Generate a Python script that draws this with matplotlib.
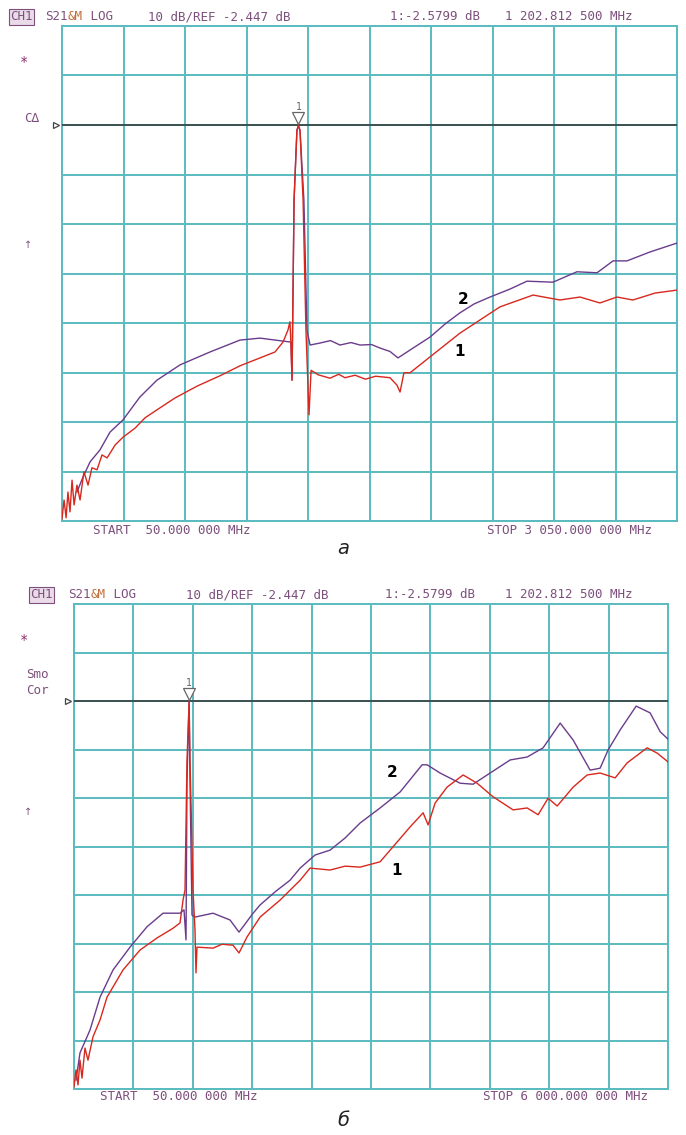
import matplotlib.pyplot as plt
import numpy as np
from matplotlib.transforms import blended_transform_factory

W, H = 686, 1135

REF = -2.447          # dB, опорный уровень
DB_DIV = 10           # дБ на деление
PEAK_F = 1202.8125    # МГц, маркер 1

# панель а: 50 ... 3050 МГц
start_a, stop_a = 50, 3050
# кривая 2 (фиолетовая), (МГц, дБ)
trace2_a = [(123, -76.6), (152, -73.6), (187, -70.5), (235, -68.1), (284, -64.5),
            (348, -62.0), (430, -57.4), (513, -54.0), (626, -50.9), (772, -48.3),
            (918, -45.9), (1016, -45.5), (1128, -46.1), (1167, -46.3), (1172, -54.0),
            (1182, -17.6), (1196, -3.5), (1203, -2.6), (1211, -3.5), (1230, -17.6),
            (1245, -43.9), (1260, -46.9), (1308, -46.5), (1360, -46.0), (1406, -46.9),
            (1460, -46.4), (1504, -46.9), (1560, -46.8), (1601, -47.5), (1650, -48.2),
            (1689, -49.5), (1748, -47.9), (1845, -45.3), (1920, -42.6), (1991, -40.4),
            (2060, -38.6), (2138, -37.2), (2235, -35.6), (2318, -34.0), (2445, -34.2),
            (2562, -32.1), (2660, -32.3), (2738, -29.9), (2806, -29.9), (2918, -28.1),
            (3050, -26.3)]
# кривая 1 (красная)
trace1_a = [(50, -82.0), (60, -78.2), (70, -81.8), (79, -76.6), (89, -80.6),
            (99, -74.2), (109, -79.2), (123, -75.2), (138, -78.2), (157, -72.5),
            (177, -75.2), (196, -71.7), (221, -72.1), (245, -69.1), (270, -69.7),
            (309, -67.1), (348, -65.5), (406, -63.7), (455, -61.6), (513, -60.0),
            (601, -57.6), (709, -55.2), (821, -53.1), (918, -51.1), (1016, -49.5),
            (1089, -48.3), (1128, -46.3), (1152, -43.9), (1162, -42.2), (1167, -46.9),
            (1172, -54.0), (1182, -17.6), (1196, -3.5), (1203, -2.6), (1211, -3.5),
            (1226, -17.6), (1240, -43.9), (1255, -61.0), (1265, -52.0), (1299, -52.9),
            (1357, -53.6), (1400, -52.8), (1430, -53.5), (1480, -53.0), (1530, -53.8),
            (1580, -53.2), (1650, -53.5), (1684, -55.0), (1699, -56.4), (1718, -52.5),
            (1748, -52.5), (1845, -49.3), (1991, -44.5), (2186, -39.2), (2348, -36.8),
            (2479, -37.8), (2577, -37.2), (2674, -38.4), (2757, -37.2), (2835, -37.8),
            (2943, -36.4), (3050, -35.8)]

# панель б: 50 ... 6000 МГц
start_b, stop_b = 50, 6000
trace2_b = [(70, -80.6), (110, -75.0), (210, -70.3), (311, -63.5), (441, -57.9),
            (611, -53.2), (781, -49.0), (942, -46.2), (1112, -46.2), (1152, -45.5),
            (1172, -51.7), (1182, -18.7), (1203, -2.6), (1212, -18.7), (1232, -46.6),
            (1262, -47.0), (1443, -46.2), (1613, -47.6), (1703, -50.1), (1844, -46.2),
            (1914, -44.5), (2064, -41.8), (2214, -39.4), (2315, -36.9), (2465, -34.2),
            (2615, -33.2), (2765, -30.7), (2916, -27.6), (3116, -24.5), (3317, -21.2),
            (3537, -15.6), (3587, -15.6), (3717, -17.3), (3918, -19.4), (4048, -19.6),
            (4218, -17.3), (4419, -14.6), (4589, -14.0), (4749, -12.1), (4920, -7.0),
            (5050, -10.5), (5220, -16.7), (5320, -16.3), (5401, -12.5), (5521, -8.4),
            (5681, -3.5), (5821, -4.9), (5922, -8.8), (6000, -10.3)]
trace1_b = [(50, -82.0), (70, -78.5), (90, -81.6), (110, -76.5), (130, -80.2),
            (160, -74.0), (190, -76.5), (240, -71.7), (311, -68.2), (381, -63.5),
            (541, -57.9), (711, -53.8), (882, -51.3), (1042, -49.3), (1112, -48.2),
            (1142, -43.5), (1162, -41.4), (1182, -14.6), (1203, -2.6), (1212, -14.6),
            (1242, -41.4), (1262, -49.7), (1272, -58.5), (1282, -53.2), (1443, -53.4),
            (1533, -52.6), (1643, -52.8), (1703, -54.4), (1783, -51.1), (1914, -47.0),
            (2114, -43.5), (2315, -39.4), (2415, -36.9), (2615, -37.3), (2765, -36.5),
            (2916, -36.7), (3116, -35.6), (3246, -32.5), (3417, -28.4), (3547, -25.5),
            (3597, -28.0), (3667, -23.5), (3787, -20.2), (3948, -17.7), (4088, -19.4),
            (4248, -22.2), (4449, -24.9), (4589, -24.5), (4699, -25.9), (4799, -22.5),
            (4890, -24.1), (5050, -20.2), (5190, -17.7), (5320, -17.3), (5471, -18.3),
            (5591, -15.2), (5791, -12.1), (5892, -13.2), (6000, -15.0)]

header = ['S21', '&M', ' LOG', '10 dB/REF -2.447 dB', '1:-2.5799 dB', '1 202.812 500 MHz']

GRID = '#5abbc0'
TXT = '#7d4f7c'
PURPLE = '#6a3c8c'
RED = '#d8281e'
MONO = 'DejaVu Sans Mono'
FS = 9

fig = plt.figure(figsize=(W / 100, H / 100), dpi=100)


def ftext(x, y, s, **kw):
    # координаты в пикселях картинки
    kw.setdefault('family', MONO)
    kw.setdefault('fontsize', FS)
    kw.setdefault('color', TXT)
    kw.setdefault('va', 'center')
    return fig.text(x / W, 1 - y / H, s, **kw)


def panel(box, start, stop, t2, t1, lab2, lab1):
    x0, y0, x1, y1 = box
    ax = fig.add_axes([x0 / W, 1 - y1 / H, (x1 - x0) / W, (y1 - y0) / H])
    ax.set_xlim(start, stop)
    ax.set_ylim(REF - 8 * DB_DIV, REF + 2 * DB_DIV)
    ax.set_xticks(np.linspace(start, stop, 11))
    ax.set_yticks(np.linspace(REF - 8 * DB_DIV, REF + 2 * DB_DIV, 11))
    ax.tick_params(length=0, labelbottom=False, labelleft=False)
    ax.grid(True, color=GRID, lw=1.4)
    for s in ax.spines.values():
        s.set_color(GRID)
        s.set_linewidth(1.4)

    f2, v2 = np.array(t2).T
    f1, v1 = np.array(t1).T
    ax.plot(f2, v2, color=PURPLE, lw=1.0, zorder=4)
    ax.plot(f1, v1, color=RED, lw=1.0, zorder=5)

    ax.axhline(REF, color='#333333', lw=1.1, zorder=3)
    tr = blended_transform_factory(ax.transAxes, ax.transData)
    ax.plot([-6 / (x1 - x0)], [REF], marker='>', ms=5, mfc='white', mec='#444444',
            mew=0.9, transform=tr, clip_on=False)
    ax.plot([PEAK_F], [REF + 1.5], marker='v', ms=8, mfc='white', mec='#666666',
            mew=0.9, zorder=6)
    ax.text(PEAK_F, REF + 3.7, '1', ha='center', va='center', fontsize=7,
            color='#666666', family=MONO)

    ax.text(*lab2, '2', fontsize=11, fontweight='bold', ha='center', va='center')
    ax.text(*lab1, '1', fontsize=11, fontweight='bold', ha='center', va='center')
    return ax


panel((62, 26, 677, 521), start_a, stop_a, trace2_a, trace1_a,
      (2006, -37.8), (1991, -48.3))
panel((74, 604, 668, 1089), start_b, stop_b, trace2_b, trace1_b,
      (3236, -17.1), (3286, -37.3))

cw = 0.602 * FS * 100 / 72  # ширина символа моноширинного шрифта, px


def head(y, xs):
    ftext(xs[0], y, 'CH1', bbox=dict(boxstyle='square,pad=0.12', fc='#eadbe8',
                                      ec=TXT, lw=0.8))
    ftext(xs[1], y, header[0])
    ftext(xs[1] + 3 * cw, y, header[1], color='#c0703a')
    ftext(xs[1] + 5 * cw, y, header[2])
    ftext(xs[2], y, header[3])
    ftext(xs[3], y, header[4])
    ftext(xs[4], y, header[5])


# панель а — подписи
head(17, (10, 45, 148, 390, 505))
ftext(20, 62, '*', color='#8a2a6a', fontsize=10)
ftext(24, 118, 'C∆')
ftext(24, 245, '↑', family='DejaVu Sans', fontsize=7)
ftext(93, 530, 'START  50.000 000 MHz')
ftext(487, 530, 'STOP 3 050.000 000 MHz')
ftext(343, 549, 'а', family='DejaVu Sans', style='italic', fontsize=14,
      color='#222222', ha='center')

# панель б — подписи
head(595, (30, 68, 186, 385, 505))
ftext(20, 640, '*', color='#8a2a6a', fontsize=10)
ftext(26, 675, 'Smo')
ftext(26, 690, 'Cor')
ftext(24, 812, '↑', family='DejaVu Sans', fontsize=7)
ftext(100, 1097, 'START  50.000 000 MHz')
ftext(483, 1097, 'STOP 6 000.000 000 MHz')
ftext(343, 1121, 'б', family='DejaVu Sans', style='italic', fontsize=14,
      color='#222222', ha='center')

fig.savefig('out.png', dpi=100)
